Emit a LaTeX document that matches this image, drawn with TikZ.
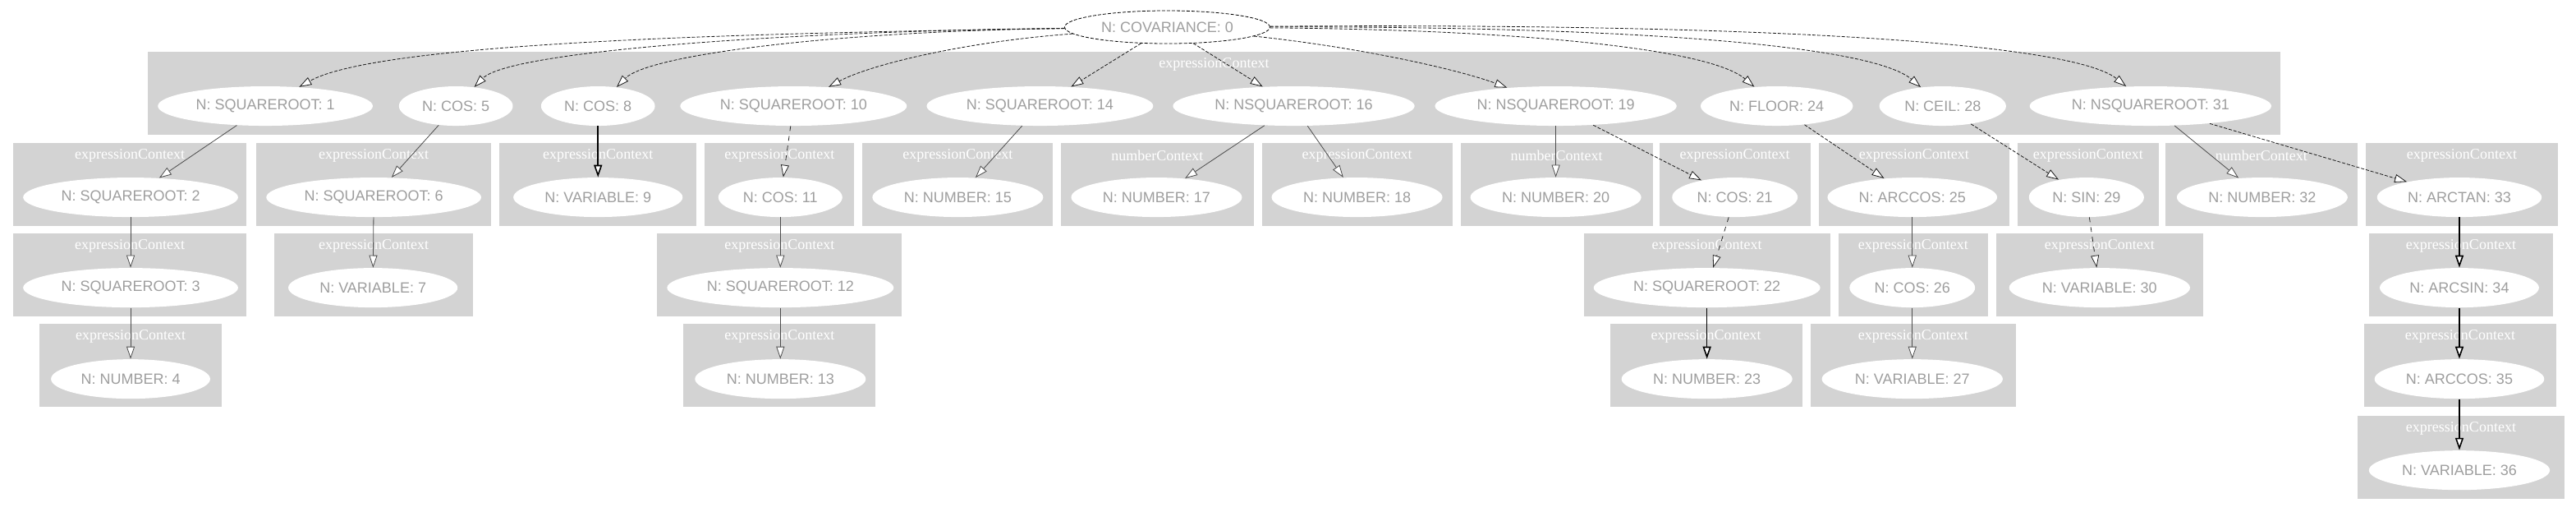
\documentclass[tikz,border=0pt]{standalone}
\usepackage{fontspec}
\setmainfont{Liberation Serif}
\newfontfamily\labfont{Liberation Sans}
\usetikzlibrary{shapes.geometric,arrows.meta}
\definecolor{clgray}{HTML}{D3D3D3}
\begin{document}
\begin{tikzpicture}[x=1pt,y=1pt,
        nsty/.style={ellipse,fill=white,inner xsep=4pt,inner ysep=1pt,
            minimum height=24pt,text=black!38,
            font=\labfont\fontsize{9}{10}\selectfont},
        rsty/.style={nsty,draw=black,dash pattern=on 2pt off 1pt,minimum height=20pt},
        csty/.style={fill=clgray},
        lsty/.style={inner sep=0pt,text=white,font=\fontsize{9}{10}\selectfont},
        esty/.style={draw=black!70,-{Triangle[fill=white,length=7.5pt,width=5pt]}},
        desty/.style={esty,draw=black!85,dashed},
        oesty/.style={esty,draw=black!90,dash pattern=on 2pt off 1pt},
        testy/.style={esty,draw=black,thick},
    ]
    \useasboundingbox (0,0) rectangle (1568,311);
    \foreach \i/\xa/\xb/\yt/\lab in {
            0/90/1388/279.5/expressionContext,
            1/8/150/224/expressionContext, 2/156/299/224/expressionContext,
            3/304/424/224/expressionContext, 4/429/520/224/expressionContext,
            5/525/641/224/expressionContext, 6/646/763/224/numberContext,
            7/768/884/224/expressionContext, 8/889/1006/224/numberContext,
            9/1010/1102/224/expressionContext, 10/1107/1223/224/expressionContext,
            11/1228/1314/224/expressionContext, 12/1318/1435/224/numberContext,
            13/1440/1557/224/expressionContext,
            14/8/150/169/expressionContext, 15/167/288/169/expressionContext,
            16/400/549/169/expressionContext, 17/964/1114/169/expressionContext,
            18/1119/1210/169/expressionContext, 19/1215/1341/169/expressionContext,
            20/1442/1554/169/expressionContext,
            21/24/135/114/expressionContext, 22/416/533/114/expressionContext,
            23/980/1097/114/expressionContext, 24/1102/1227/114/expressionContext,
            25/1439/1556/114/expressionContext,
            26/1435/1561/58/expressionContext}{
        \fill[csty] (\xa,\yt) rectangle (\xb,\yt-50.5);
        \node (c\i) at ({(\xa+\xb)/2},\yt-7.5) [lsty] {\lab};
    }
    \node (n0) at (710.5,294.5) [rsty] {N: COVARIANCE: 0};
    \foreach \n/\x/\t in {1/161.5/SQUAREROOT, 5/277.5/COS, 8/364/COS,
            10/483/SQUAREROOT, 14/633/SQUAREROOT, 16/787.5/NSQUAREROOT,
            19/947/NSQUAREROOT, 24/1081.5/FLOOR, 28/1182.5/CEIL,
            31/1309/NSQUAREROOT}{
        \node (n\n) at (\x,246.5) [nsty] {N: \t: \n};
    }
    \foreach \n/\x/\t in {2/79.5/SQUAREROOT, 6/227.5/SQUAREROOT, 9/364/VARIABLE,
            11/475/COS, 15/583/NUMBER, 17/704/NUMBER, 18/826/NUMBER,
            20/947/NUMBER, 21/1056/COS, 25/1164/ARCCOS, 29/1270/SIN,
            32/1377/NUMBER, 33/1497/ARCTAN}{
        \node (n\n) at (\x,191) [nsty] {N: \t: \n};
    }
    \foreach \n/\x/\t in {3/79.5/SQUAREROOT, 7/227/VARIABLE, 12/475/SQUAREROOT,
            22/1039/SQUAREROOT, 26/1164/COS, 30/1278/VARIABLE, 34/1497/ARCSIN}{
        \node (n\n) at (\x,136) [nsty] {N: \t: \n};
    }
    \foreach \n/\x/\t in {4/79.5/NUMBER, 13/475/NUMBER, 23/1039/NUMBER,
            27/1164/VARIABLE, 35/1497/ARCCOS}{
        \node (n\n) at (\x,80.5) [nsty] {N: \t: \n};
    }
    \node (n36) at (1497,25) [nsty] {N: VARIABLE: 36};

    \draw[oesty] (n0) .. controls (450,291) and (230,285) .. (n1);
    \draw[oesty] (n0) .. controls (480,292) and (310,280) .. (n5);
    \draw[oesty] (n0) .. controls (510,292) and (395,278) .. (n8);
    \draw[oesty] (n0) .. controls (590,286) and (530,272) .. (n10);
    \draw[oesty] (n0) -- (n14);
    \draw[oesty] (n0) -- (n16);
    \draw[oesty] (n0) .. controls (830,282) and (890,268) .. (n19);
    \draw[oesty] (n0) .. controls (920,293) and (1040,282) .. (n24);
    \draw[oesty] (n0) .. controls (1000,295) and (1140,283) .. (n28);
    \draw[oesty] (n0) .. controls (1060,297) and (1260,286) .. (n31);

    \foreach \a/\b in {1/2,2/3,3/4,5/6,6/7,11/12,12/13,14/15,16/17,16/18,
            19/20,25/26,26/27,31/32}{
        \draw[esty] (n\a) -- (n\b);
    }
    \foreach \a/\b in {10/11,21/22,29/30}{
        \draw[desty] (n\a) -- (n\b);
    }
    \foreach \a/\b in {19/21,24/25,28/29,31/33}{
        \draw[oesty] (n\a) -- (n\b);
    }
    \foreach \a/\b in {8/9,22/23,33/34,34/35,35/36}{
        \draw[testy] (n\a) -- (n\b);
    }
\end{tikzpicture}
\end{document}
